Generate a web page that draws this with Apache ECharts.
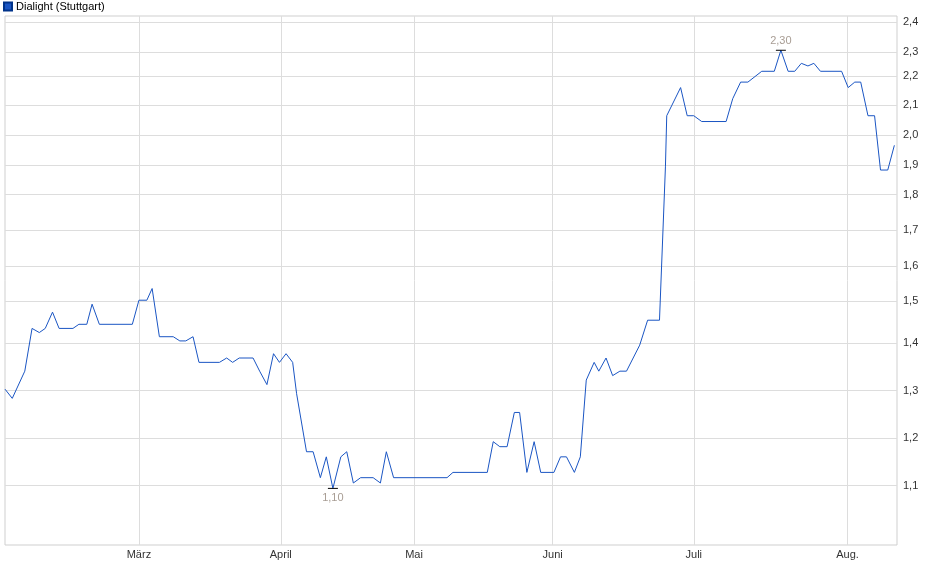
<!DOCTYPE html>
<html>
<head>
<meta charset="utf-8">
<script src="https://cdn.jsdelivr.net/npm/echarts@6/dist/echarts.min.js"></script>
<style>html,body{margin:0;padding:0;background:#fff}#chart{width:940px;height:579px}</style>
</head>
<body>
<div id="chart"></div>
<script>
// trading-day index and price (EUR)
var dayIdx = [0, 1.1, 3.0, 4.1, 5.2, 6.1, 7.2, 8.2, 10.3, 11.2, 12.4, 13.2, 14.3, 19.3, 20.3, 21.5, 22.3, 23.4,
    25.5, 26.5, 27.4, 28.5, 29.4, 32.5, 33.6, 34.5, 35.5, 37.6, 38.6, 39.7, 40.7, 41.6, 42.6, 43.6, 44.2,
    45.7, 46.7, 47.8, 48.7, 49.7, 50.9, 51.8, 52.8, 53.9, 55.8, 56.9, 57.8, 58.9, 67.0, 67.9, 73.1, 74.0,
    75.0, 76.1, 77.2, 78.0, 79.1, 80.2, 81.2, 83.2, 84.2, 85.1, 86.3, 87.2, 88.1, 89.3, 90.0, 91.1, 92.1,
    93.2, 94.2, 96.2, 97.4, 99.2, 100.1, 100.3, 102.4, 103.4, 104.4, 105.6, 109.3, 110.3, 111.5, 112.6,
    114.7, 116.6, 117.6, 118.7, 119.7, 120.7, 121.7, 122.6, 123.6, 126.8, 127.8, 128.8, 129.7, 130.8,
    131.8, 132.7, 133.8, 134.8];
var price = [1.30, 1.28, 1.34, 1.44, 1.43, 1.44, 1.48, 1.44, 1.44, 1.45, 1.45, 1.50, 1.45, 1.45, 1.51, 1.51, 1.54, 1.42,
    1.42, 1.41, 1.41, 1.42, 1.36, 1.36, 1.37, 1.36, 1.37, 1.37, 1.34, 1.31, 1.38, 1.36, 1.38, 1.36, 1.29,
    1.17, 1.17, 1.12, 1.16, 1.10, 1.16, 1.17, 1.11, 1.12, 1.12, 1.11, 1.17, 1.12, 1.12, 1.13, 1.13, 1.19,
    1.18, 1.18, 1.25, 1.25, 1.13, 1.19, 1.13, 1.13, 1.16, 1.16, 1.13, 1.16, 1.32, 1.36, 1.34, 1.37, 1.33,
    1.34, 1.34, 1.40, 1.46, 1.46, 1.89, 2.06, 2.16, 2.06, 2.06, 2.04, 2.04, 2.12, 2.18, 2.18,
    2.22, 2.22, 2.30, 2.22, 2.22, 2.25, 2.24, 2.25, 2.22, 2.22, 2.16, 2.18, 2.18, 2.06,
    2.06, 1.88, 1.88, 1.96];
var monthNames = ['März', 'April', 'Mai', 'Juni', 'Juli', 'Aug.'];
var monthIdx = [20.3, 41.8, 62.0, 83.0, 104.4, 127.7];
var yTicks = [1.1, 1.2, 1.3, 1.4, 1.5, 1.6, 1.7, 1.8, 1.9, 2.0, 2.1, 2.2, 2.3, 2.4];

var chart = echarts.init(document.getElementById('chart'));
var font = 'Liberation Sans, Arial, sans-serif';
var fmt = function (v) { return v.toFixed(1).replace('.', ','); };

var points = dayIdx.map(function (d, i) { return [d, Math.log(price[i])]; });
var lo = price.indexOf(Math.min.apply(null, price));
var hi = price.indexOf(Math.max.apply(null, price));

var gridLines = monthIdx.map(function (m, i) {
    return { xAxis: m, label: { show: true, position: 'start', formatter: monthNames[i], distance: 4 } };
}).concat(yTicks.map(function (t) {
    return { yAxis: Math.log(t), label: { show: true, position: 'end', formatter: fmt(t), distance: 6 } };
}));

chart.setOption({
    animation: false,
    grid: { left: 5, right: 43, top: 16, bottom: 34, show: true, borderColor: '#cfcfcf', borderWidth: 1 },
    legend: {
        left: 3, top: 1, padding: 0, itemWidth: 8, itemHeight: 8, itemGap: 4, icon: 'rect',
        textStyle: { fontFamily: font, fontSize: 11, color: '#000', padding: [0, 0, 0, -1] }
    },
    xAxis: {
        type: 'value', min: 0, max: 135.2,
        axisLine: { show: false }, axisTick: { show: false }, axisLabel: { show: false }, splitLine: { show: false }
    },
    yAxis: {
        type: 'value', min: 0, max: 0.8906,
        axisLine: { show: false }, axisTick: { show: false }, axisLabel: { show: false }, splitLine: { show: false }
    },
    series: [{
        name: 'Dialight (Stuttgart)',
        type: 'line',
        data: points,
        symbol: 'none',
        lineStyle: { color: '#1a55c3', width: 1 },
        itemStyle: { color: '#1a55c3', borderColor: '#00338a', borderWidth: 1 },
        markLine: {
            silent: true, symbol: 'none', z: 1,
            lineStyle: { color: '#dddddd', width: 1, type: 'solid' },
            label: { fontFamily: font, fontSize: 11, color: '#333' },
            data: gridLines
        },
        markPoint: {
            symbol: 'rect', symbolSize: [10, 1],
            itemStyle: { color: '#000' },
            label: { fontFamily: font, fontSize: 11, color: '#a89d94' },
            data: [
                { coord: points[lo], label: { position: 'bottom', distance: 4, formatter: price[lo].toFixed(2).replace('.', ',') } },
                { coord: points[hi], label: { position: 'top', distance: 3, formatter: price[hi].toFixed(2).replace('.', ',') } }
            ]
        }
    }]
});
</script>
</body>
</html>
